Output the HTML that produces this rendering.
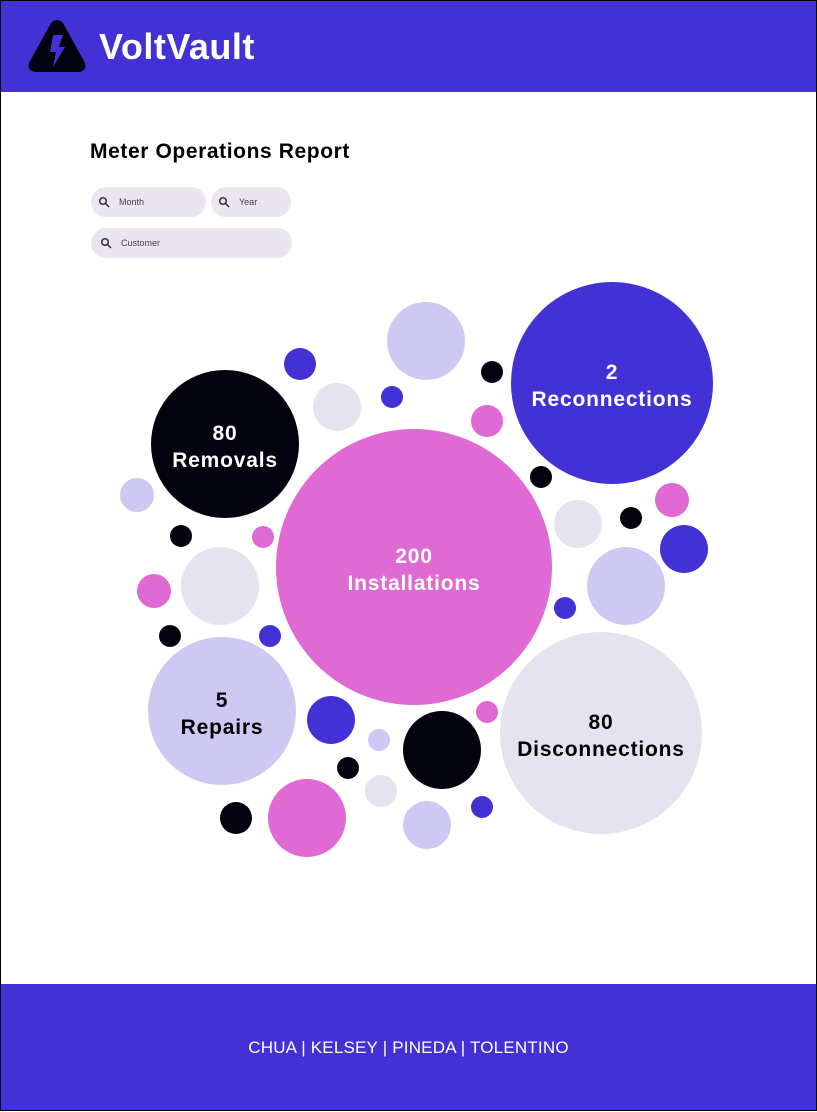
<!DOCTYPE html>
<html><head><meta charset="utf-8"><style>
*{margin:0;padding:0;box-sizing:border-box}
body{width:817px;height:1111px;position:relative;overflow:hidden;background:#fff;font-family:"Liberation Sans",sans-serif}
#frame{position:absolute;inset:0;border:1px solid #000;pointer-events:none;z-index:5}
#hdr{position:absolute;left:0;top:0;width:817px;height:92px;background:#4232d6}
#brand{position:absolute;left:99px;top:26px;color:#fff;font-weight:bold;font-size:36px;letter-spacing:0.5px}
h1{position:absolute;left:90px;top:140px;font-size:21px;font-weight:bold;color:#000;letter-spacing:0.6px}
.sb{position:absolute;height:30px;border-radius:15px;background:#ebe5f0;font-size:9px;color:#444;line-height:30px}
.sb svg{position:absolute;left:7px;top:9px}
.sb span{position:absolute;left:28px}
#ftr{position:absolute;left:0;top:984px;width:817px;height:127px;background:#4232d6;color:#fff;text-align:center;font-size:17px;line-height:128px;letter-spacing:0.2px}
</style></head><body>
<div id="frame"></div>
<div id="hdr">
<svg style="position:absolute;left:27px;top:19px" width="60" height="54" viewBox="0 0 60 54">
<path d="M24 4 Q30 -2 36 4 L58 44 Q60 52 52 53 L8 53 Q0 52 2 44 Z" fill="#03030f"/>
<path d="M26 16 L36 16 L32 28 L38 28 L26 48 L29 33 L23 33 Z" fill="#4232d6"/>
</svg>
<div id="brand">VoltVault</div>
</div>
<h1>Meter Operations Report</h1>
<div class="sb" style="left:91px;top:187px;width:115px"><svg width="12" height="12" viewBox="0 0 12 12"><circle cx="5" cy="5" r="3.3" fill="none" stroke="#333" stroke-width="1.5"/><line x1="7.5" y1="7.5" x2="11" y2="11" stroke="#333" stroke-width="1.5"/></svg><span>Month</span></div>
<div class="sb" style="left:211px;top:187px;width:80px"><svg width="12" height="12" viewBox="0 0 12 12"><circle cx="5" cy="5" r="3.3" fill="none" stroke="#333" stroke-width="1.5"/><line x1="7.5" y1="7.5" x2="11" y2="11" stroke="#333" stroke-width="1.5"/></svg><span>Year</span></div>
<div class="sb" style="left:91px;top:228px;width:201px"><svg width="12" height="12" viewBox="0 0 12 12" style="left:9px"><circle cx="5" cy="5" r="3.3" fill="none" stroke="#333" stroke-width="1.5"/><line x1="7.5" y1="7.5" x2="11" y2="11" stroke="#333" stroke-width="1.5"/></svg><span style="left:30px">Customer</span></div>
<svg id="chart" style="position:absolute;left:0;top:0" width="817" height="984"></svg>
<div id="ftr">CHUA | KELSEY | PINEDA | TOLENTINO</div>
<script>
const categories=["Installations","Reconnections","Removals","Repairs","Disconnections"];
const values=[200,2,80,5,80];
const C={p:"#4232d6",k:"#03030f",m:"#e06ad4",l:"#cdc9f3",g:"#e4e3ef"};
const bigLayout=[[414,567,138,"m","#fff"],[612,383,101,"p","#fff"],[225,444,74,"k","#fff"],[222,711,74,"l","#000"],[601,733,101,"g","#000"]];
const deco=[[426,341,39,"l"],[300,364,16,"p"],[337,407,24,"g"],[392,397,11,"p"],[492,372,11,"k"],[487,421,16,"m"],[541,477,11,"k"],[137,495,17,"l"],[181,536,11,"k"],[263,537,11,"m"],[220,586,39,"g"],[154,591,17,"m"],[170,636,11,"k"],[270,636,11,"p"],[578,524,24,"g"],[631,518,11,"k"],[672,500,17,"m"],[684,549,24,"p"],[626,586,39,"l"],[565,608,11,"p"],[487,712,11,"m"],[331,720,24,"p"],[379,740,11,"l"],[442,750,39,"k"],[348,768,11,"k"],[381,791,16,"g"],[236,818,16,"k"],[307,818,39,"m"],[427,825,24,"l"],[482,807,11,"p"]];
const svg=document.getElementById('chart');const NS="http://www.w3.org/2000/svg";
deco.forEach(d=>{const c=document.createElementNS(NS,'circle');


c.setAttribute('cx',d[0]);c.setAttribute('cy',d[1]);c.setAttribute('r',d[2]);c.setAttribute('fill',C[d[3]]);svg.appendChild(c);});
categories.forEach((cat,i)=>{const L=bigLayout[i];const c=document.createElementNS(NS,'circle');


c.setAttribute('cx',L[0]);c.setAttribute('cy',L[1]);c.setAttribute('r',L[2]);c.setAttribute('fill',C[L[3]]);svg.appendChild(c);
[[String(values[i]),-4],[cat,23]].forEach((t,j)=>{const tx=document.createElementNS(NS,'text');


tx.setAttribute('x',L[0]);tx.setAttribute('y',L[1]+t[1]);tx.setAttribute('text-anchor','middle');tx.setAttribute('font-size','21');tx.setAttribute('font-weight','bold');tx.setAttribute('letter-spacing','0.8');tx.setAttribute('font-family','Liberation Sans, sans-serif');tx.setAttribute('fill',L[4]);tx.textContent=t[0];svg.appendChild(tx);});});
</script>
</body></html>
